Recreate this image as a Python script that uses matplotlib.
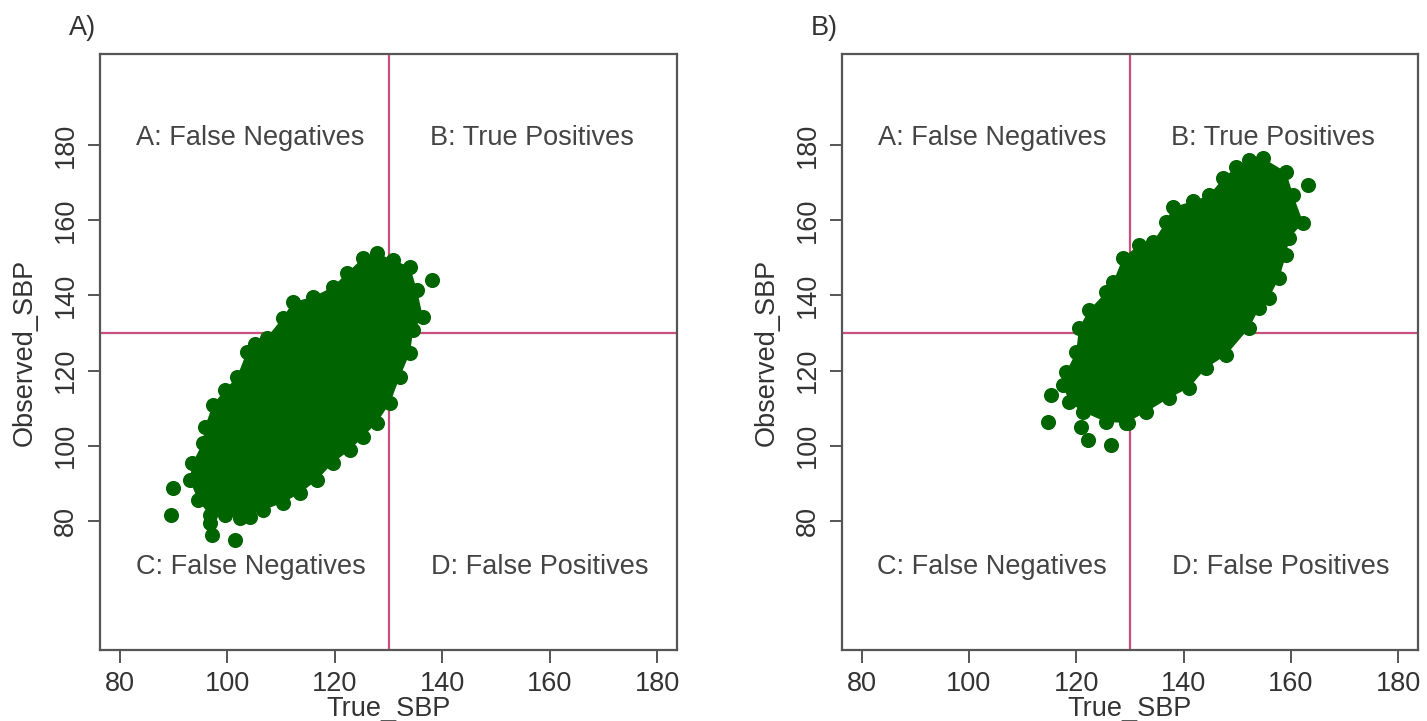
import matplotlib
matplotlib.use('Agg')
import matplotlib.pyplot as plt

plt.rcParams['font.family'] = ['Liberation Sans', 'DejaVu Sans']

# ---- data ----
# panel A: edge points of the dense cloud (clockwise from the top) + stray points
a_edge_x = [127.8, 130.8, 134.0, 135.3, 136.4, 134.6, 134.0, 132.1, 130.3, 127.8, 125.2, 122.8,
            119.6, 116.7, 113.5, 110.3, 106.6, 102.3, 99.5, 96.7, 94.5, 93.0, 93.5, 95.4,
            95.8, 97.3, 99.5, 101.8, 103.6, 105.2, 107.3, 110.3, 112.2, 115.9, 119.6, 122.3, 125.2]
a_edge_y = [151.3, 149.4, 147.6, 141.4, 134.3, 130.8, 124.7, 118.3, 111.4, 106.1, 102.3, 98.9,
            95.4, 90.9, 87.4, 84.8, 82.9, 80.8, 81.6, 81.6, 85.6, 90.9, 95.4, 100.7,
            105.0, 110.9, 114.8, 118.3, 124.9, 127.0, 128.7, 134.0, 138.2, 139.6, 142.2, 146.0, 149.9]
a_out_x = [138.1, 89.6, 89.8, 97.1, 101.4, 104.2, 96.7]
a_out_y = [144.1, 81.6, 88.8, 76.3, 74.9, 81.1, 79.5]

# panel B
b_edge_x = [152.2, 154.8, 159.1, 160.4, 162.3, 159.7, 159.1, 157.8, 155.9, 154.1, 152.2, 147.9,
            144.2, 141.0, 137.3, 133.0, 129.3, 125.6, 121.3, 118.7, 117.5, 118.1, 120.0, 120.5,
            122.4, 125.6, 126.9, 128.7, 131.7, 134.3, 136.7, 138.0, 141.7, 144.8, 147.4, 149.8]
b_edge_y = [176.0, 176.5, 172.8, 166.7, 159.3, 155.3, 150.7, 144.6, 139.3, 136.6, 131.3, 124.1,
            120.7, 115.4, 112.7, 109.0, 106.1, 106.3, 109.0, 111.6, 116.2, 119.6, 124.9, 131.3,
            136.1, 140.9, 143.6, 150.0, 153.4, 154.2, 159.5, 163.5, 165.0, 166.7, 171.2, 174.1]
b_out_x = [163.2, 115.3, 114.7, 120.9, 122.2, 126.5, 129.7]
b_out_y = [169.4, 113.5, 106.3, 105.0, 101.5, 100.2, 106.1]

cutoff = 130
ticks = [80, 100, 120, 140, 160, 180]
quad_labels = ['A: False Negatives', 'B: True Positives', 'C: False Negatives', 'D: False Positives']
quad_x = [104.3, 156.7, 104.3, 158.1]
quad_y = [181.9, 181.9, 67.8, 67.8]
panels = ['A)', 'B)']

GREEN = '#006400'
LINE = '#C8507E'
FRAME = '#555555'
FS = 19.5

fig = plt.figure(figsize=(14.27, 7.21), dpi=100)
ax_a = fig.add_axes([0.0701, 0.0985, 0.4043, 0.8266])
ax_b = fig.add_axes([0.5898, 0.0985, 0.4040, 0.8266])

for ax, ex, ey, ox, oy, tag in [(ax_a, a_edge_x, a_edge_y, a_out_x, a_out_y, panels[0]),
                                (ax_b, b_edge_x, b_edge_y, b_out_x, b_out_y, panels[1])]:
    ax.axvline(cutoff, color=LINE, lw=1.6, zorder=1)
    ax.axhline(cutoff, color=LINE, lw=1.6, zorder=1)
    ax.fill(ex, ey, color=GREEN, lw=0, zorder=2)
    ax.scatter(ex + ox, ey + oy, s=118, color=GREEN, lw=0, zorder=3)

    for t, x, y in zip(quad_labels, quad_x, quad_y):
        ax.text(x, y, t, ha='center', va='center', fontsize=FS, color='#444444')

    ax.set_xlim(76.3, 183.7)
    ax.set_ylim(45.7, 204.2)
    ax.set_xticks(ticks)
    ax.set_yticks(ticks)
    ax.tick_params(length=9, width=1.4, color=FRAME, labelsize=FS, labelcolor='#333333', pad=6)
    ax.tick_params(axis='y', labelrotation=90)
    for lab in ax.get_yticklabels():
        lab.set_va('center')
    for sp in ax.spines.values():
        sp.set_color(FRAME)
        sp.set_linewidth(1.6)

    ax.set_xlabel('True_SBP', fontsize=FS, color='#333333', va='center')
    ax.set_ylabel('Observed_SBP', fontsize=FS, color='#333333', va='center')
    ax.xaxis.set_label_coords(0.5, -0.099)
    ax.yaxis.set_label_coords(-0.130, 0.5)
    ax.text(-0.03, 1.044, tag, transform=ax.transAxes, ha='center', va='center',
            fontsize=FS, color='#333333')

fig.savefig('out.png', dpi=100)
